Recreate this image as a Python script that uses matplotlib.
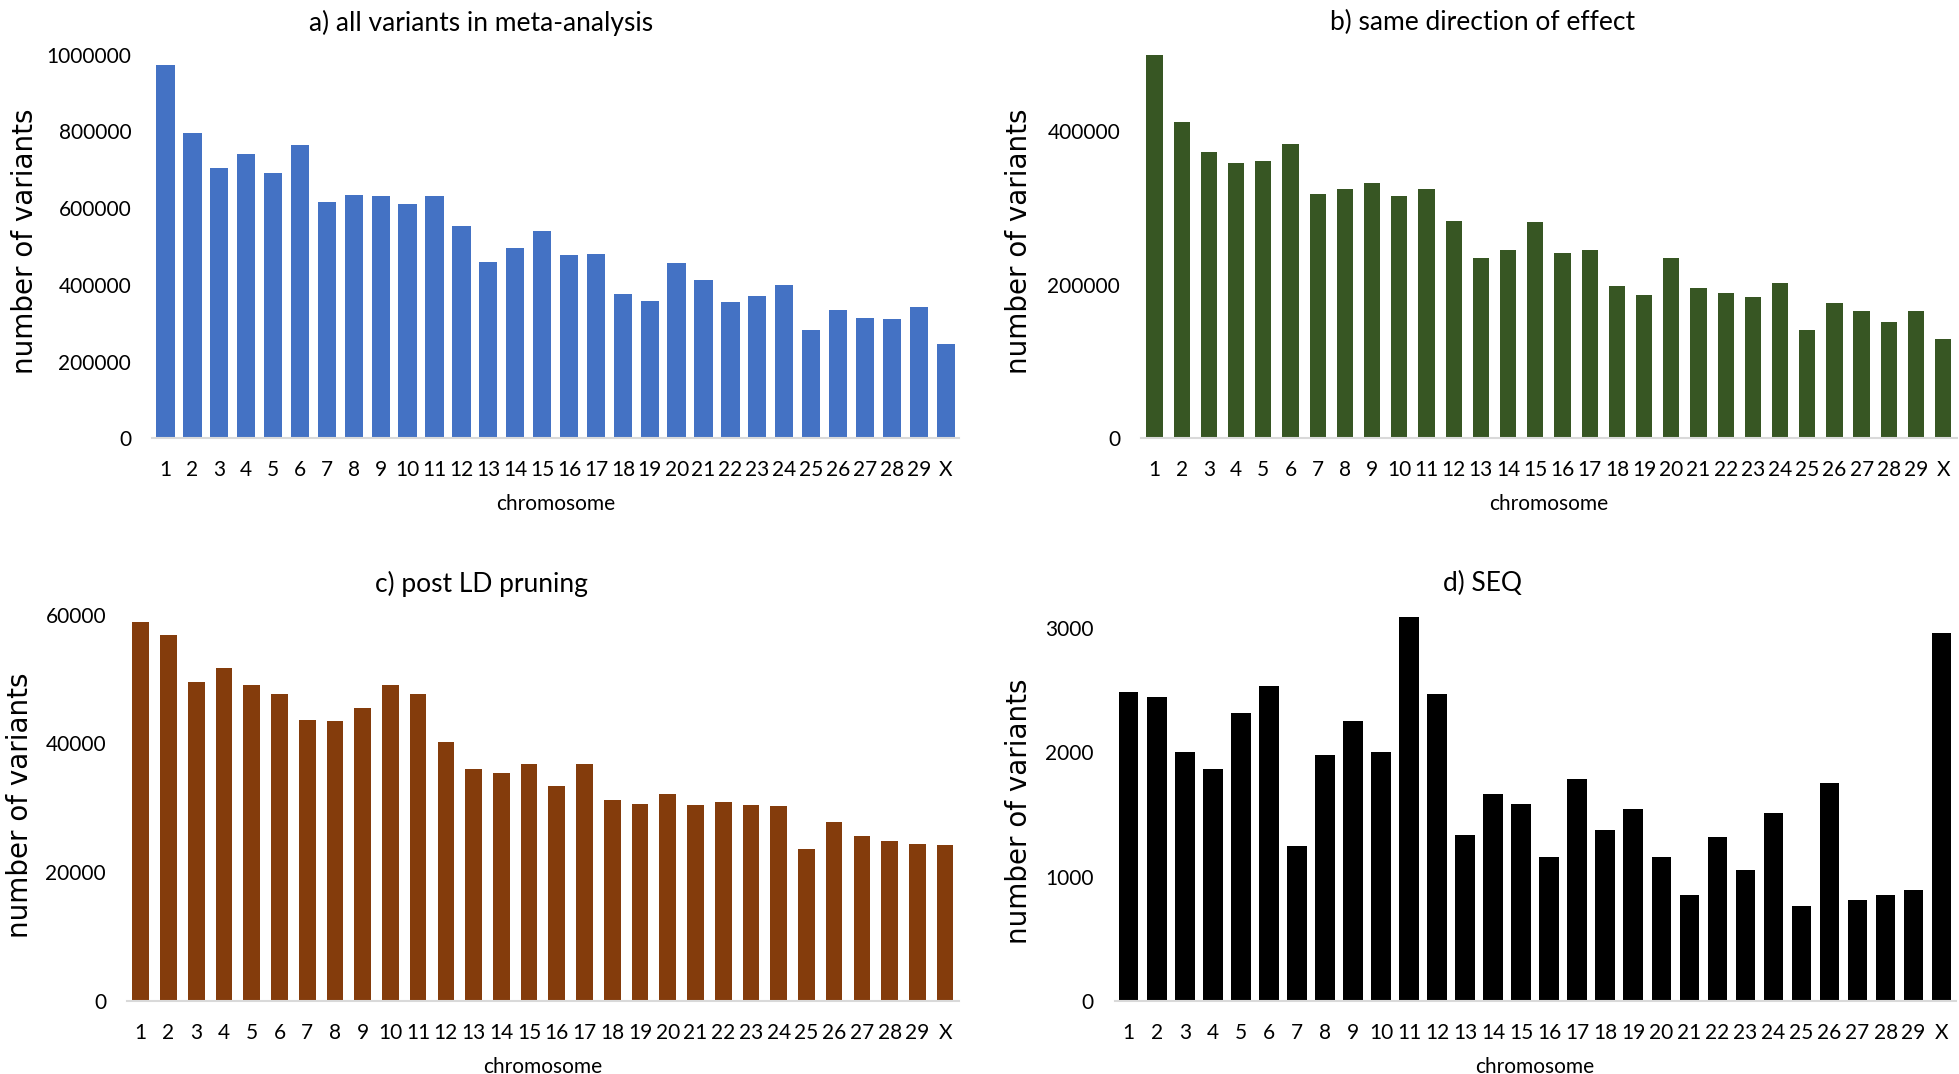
import matplotlib.pyplot as plt

# Chromosome labels shared by all four panels
chromosomes = [str(i) for i in range(1, 30)] + ['X']

# a) all variants in meta-analysis
all_variants = [973000, 795000, 704000, 740000, 692000, 765000, 615000, 635000, 631000, 610000,
                631000, 554000, 460000, 497000, 541000, 477000, 481000, 376000, 359000, 456000,
                412000, 355000, 371000, 400000, 281000, 334000, 314000, 310000, 342000, 245000]

# b) same direction of effect
same_direction = [500000, 412500, 373600, 359300, 361100, 383900, 318700, 324900, 333000, 316400,
                  324900, 283800, 235500, 245400, 282000, 241300, 245400, 198400, 186400, 235500,
                  196200, 189900, 184100, 202500, 141200, 176100, 165800, 151500, 165800, 129200]

# c) post LD pruning
post_ld = [58800, 56800, 49500, 51700, 49000, 47600, 43600, 43400, 45400, 49000,
           47600, 40200, 36000, 35300, 36700, 33400, 36700, 31200, 30600, 32100,
           30400, 30900, 30400, 30200, 23600, 27700, 25500, 24800, 24300, 24100]

# d) SEQ
seq = [2485, 2446, 2003, 1864, 2319, 2535, 1244, 1978, 2255, 2003,
       3089, 2471, 1332, 1662, 1584, 1155, 1787, 1371, 1548, 1155,
       853, 1321, 1055, 1510, 765, 1751, 814, 853, 889, 2961]

plt.rcParams['font.family'] = ['Lato', 'DejaVu Sans']

fig = plt.figure(figsize=(19.59, 10.74), dpi=100)

panels = [
    # values, colour, title, yticks, ymax, axes rect, bar width, title pos, ylabel pos
    (all_variants, '#4472C4', 'a) all variants in meta-analysis', [0, 200000, 400000, 600000, 800000, 1000000],
     1000000, [0.0776, 0.592, 0.412, 0.357], 0.68, (0.2456, 0.991), (0.013, 0.775)),
    (same_direction, '#375623', 'b) same direction of effect', [0, 200000, 400000],
     500000, [0.5824, 0.592, 0.4165, 0.357], 0.6, (0.7566, 0.991), (0.520, 0.775)),
    (post_ld, '#843C0C', 'c) post LD pruning', [0, 20000, 40000, 60000],
     60000, [0.0648, 0.0684, 0.4247, 0.3594], 0.6, (0.2456, 0.468), (0.010, 0.25)),
    (seq, '#000000', 'd) SEQ', [0, 1000, 2000, 3000],
     3100, [0.569, 0.0684, 0.4293, 0.358], 0.7, (0.7566, 0.468), (0.520, 0.245)),
]

x = range(len(chromosomes))

for values, color, title, yticks, ymax, rect, width, title_pos, ylabel_pos in panels:
    ax = fig.add_axes(rect)
    ax.bar(x, values, width=width, color=color)
    ax.set_xlim(-0.5, len(chromosomes) - 0.5)
    ax.set_ylim(0, ymax)
    ax.set_xticks(list(x))
    ax.set_xticklabels(chromosomes)
    ax.set_yticks(yticks)
    ax.set_yticklabels([str(t) for t in yticks])
    ax.tick_params(axis='both', length=0, labelsize=15, colors='#000000')
    ax.tick_params(axis='x', pad=16)
    ax.tick_params(axis='y', pad=15)

    # only a light grey baseline, like the Excel chart
    for side in ['top', 'right', 'left']:
        ax.spines[side].set_visible(False)
    ax.spines['bottom'].set_color('#D9D9D9')
    ax.spines['bottom'].set_linewidth(1.5)

    ax.set_xlabel('chromosome', fontsize=15, labelpad=10)
    fig.text(title_pos[0], title_pos[1], title, ha='center', va='top', fontsize=19)
    fig.text(ylabel_pos[0], ylabel_pos[1], 'number of variants', rotation=90, ha='center', va='center',
             fontsize=20, family='DejaVu Sans')

fig.savefig('out.png', dpi=100)
